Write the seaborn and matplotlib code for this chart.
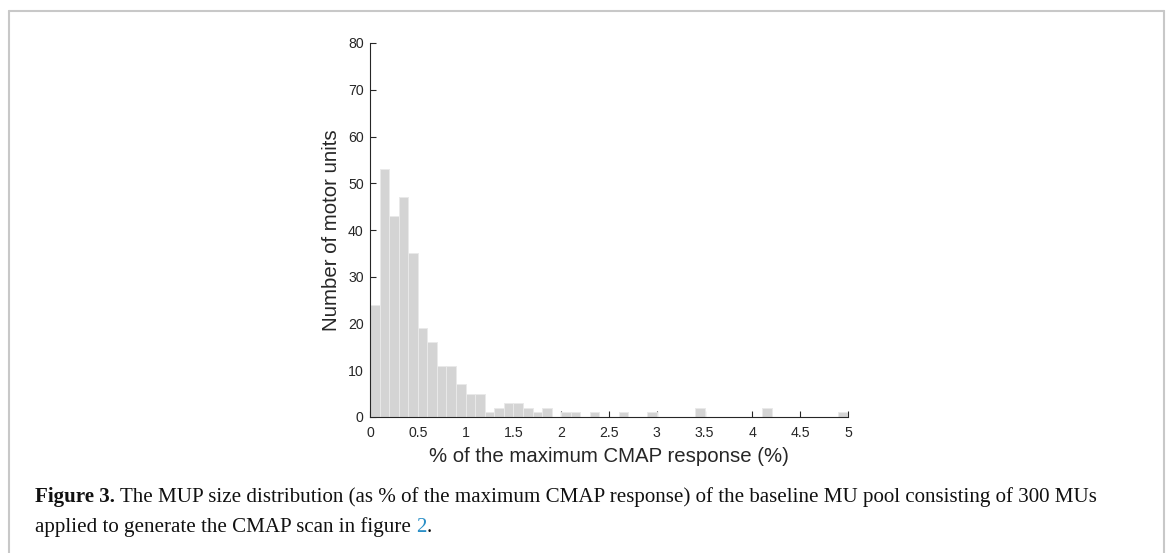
import numpy as np
import pandas as pd
import seaborn as sns
import matplotlib
matplotlib.use("Agg")
import matplotlib.pyplot as plt
from matplotlib.lines import Line2D

# ---- data ----
bin_edges = [round(0.1 * i, 2) for i in range(51)]
counts = [24, 53, 43, 47, 35, 19, 16, 11, 11, 7,
          5, 5, 1, 2, 3, 3, 2, 1, 2, 0,
          1, 1, 0, 1, 0, 0, 1, 0, 0, 1,
          0, 0, 0, 0, 2, 0, 0, 0, 0, 0,
          0, 2, 0, 0, 0, 0, 0, 0, 0, 1]
x_ticks = [0, 0.5, 1, 1.5, 2, 2.5, 3, 3.5, 4, 4.5, 5]
x_tick_labels = ["0", "0.5", "1", "1.5", "2", "2.5", "3", "3.5", "4", "4.5", "5"]
y_ticks = [0, 10, 20, 30, 40, 50, 60, 70, 80]
x_label = "% of the maximum CMAP response (%)"
y_label = "Number of motor units"
cap_bold = "Figure 3."
cap_line1 = " The MUP size distribution (as % of the maximum CMAP response) of the baseline MU pool consisting of 300 MUs"
cap_line2 = "applied to generate the CMAP scan in figure "
cap_link = "2"
cap_end = "."

sns.set_theme(style="white")
plt.rcParams['font.family'] = ['Liberation Sans', 'DejaVu Sans']

W, H = 1171, 553
fig = plt.figure(figsize=(W / 100, H / 100), dpi=100)
ax = fig.add_axes([370 / W, 1 - 417 / H, (848 - 370) / W, (417 - 43) / H])

centers = [(bin_edges[i] + bin_edges[i + 1]) / 2 for i in range(len(counts))]
df = pd.DataFrame({"center": centers, "count": counts})
sns.histplot(data=df, x="center", weights="count", bins=bin_edges, ax=ax,
             color="#d4d4d4", edgecolor="#e9e9e9", linewidth=0.7, alpha=1.0)

axc = "#262626"
ax.set_xlim(0, 5)
ax.set_ylim(0, 80)
ax.set_xticks(x_ticks)
ax.set_xticklabels(x_tick_labels)
ax.set_yticks(y_ticks)
ax.tick_params(direction="in", length=4, width=0.8, colors=axc, labelsize=10.2,
               bottom=True, left=True)
ax.tick_params(axis="x", pad=6.5)
ax.tick_params(axis="y", pad=4.5)
for s in ["top", "right"]:
    ax.spines[s].set_visible(False)
for s in ["left", "bottom"]:
    ax.spines[s].set_color(axc)
    ax.spines[s].set_linewidth(0.8)
ax.set_xlabel(x_label, fontsize=14.7, color=axc, labelpad=5)
ax.set_ylabel(y_label, fontsize=14.7, color=axc, labelpad=5)
ax.grid(False)

# ---- frame around figure ----
fc = "#c8c8c8"
fig.add_artist(Line2D([9 / W, 9 / W], [0, 1 - 11 / H], transform=fig.transFigure, color=fc, lw=1.5))
fig.add_artist(Line2D([1164 / W, 1164 / W], [0, 1 - 11 / H], transform=fig.transFigure, color=fc, lw=1.5))
fig.add_artist(Line2D([9 / W, 1164 / W], [1 - 11 / H, 1 - 11 / H], transform=fig.transFigure, color=fc, lw=1.5))

# ---- caption ----
serif = ['Liberation Serif', 'DejaVu Serif']
cfs = 15.1
renderer = fig.canvas.get_renderer()
x0 = 35 / W
y1 = 1 - 502 / H
y2 = 1 - 532 / H
t = fig.text(x0, y1, cap_bold, fontsize=cfs, family=serif, weight="bold", color="#111111", va="baseline")
bb = t.get_window_extent(renderer)
fig.text(bb.x1 / W, y1, cap_line1, fontsize=cfs, family=serif, color="#111111", va="baseline")
t2 = fig.text(x0, y2, cap_line2, fontsize=cfs, family=serif, color="#111111", va="baseline")
bb2 = t2.get_window_extent(renderer)
t3 = fig.text(bb2.x1 / W, y2, cap_link, fontsize=cfs, family=serif, color="#2a8fc7", va="baseline")
bb3 = t3.get_window_extent(renderer)
fig.text(bb3.x1 / W, y2, cap_end, fontsize=cfs, family=serif, color="#111111", va="baseline")

fig.savefig("out.png", dpi=100, facecolor="white")
